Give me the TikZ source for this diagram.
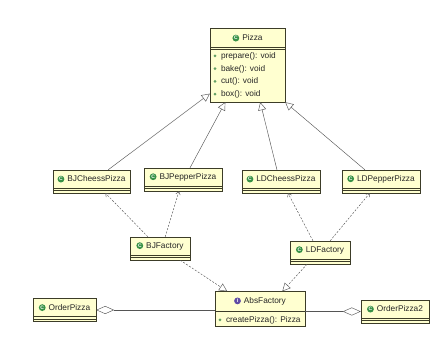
\documentclass[tikz,border=0pt]{standalone}
\usepackage{fontspec}
\setmainfont{Liberation Sans}
\usepackage{tikz}
\usetikzlibrary{arrows.meta,positioning}
\usepackage{xcolor}
\definecolor{umlfill}{RGB}{255,255,208}
\definecolor{umlline}{RGB}{60,60,40}
\definecolor{umlgreen}{RGB}{55,145,70}
\definecolor{umlviolet}{RGB}{95,75,165}
\definecolor{umldot}{RGB}{100,160,100}
\definecolor{wiregray}{RGB}{85,85,85}
\newcommand{\clsicon}[2]{\tikz[baseline=-2.4pt]\node[circle,draw=none,fill=#1,anchor=center,
    inner sep=0pt,minimum size=6.8pt,text=white,font=\bfseries\fontsize{5}{5}\selectfont]{#2};\hspace{3pt}}
\newcommand{\umlop}[1]{\tikz[baseline=-2.4pt]\fill[umldot] (0,0) circle (1.5pt);\hspace{4.5pt}#1}
\tikzset{
    clsbox/.style={rectangle, draw=umlline, fill=umlfill, thin, inner sep=0pt},
    clsname/.style={inner sep=0pt, minimum height=18pt, font=\fontsize{8.3}{10}\selectfont, text=black!85},
    clsops/.style={inner sep=0pt, align=left, font=\fontsize{8.3}{12.7}\selectfont, text=black!85},
    botcomp/.style={path picture={\foreach \d in {2.5,5}
        \draw[umlline] ([yshift=\d pt]path picture bounding box.south west)
                    -- ([yshift=\d pt]path picture bounding box.south east);}},
    topcomp/.style={path picture={\foreach \d in {#1}
        \draw[umlline] ([yshift=-\d pt]path picture bounding box.north west)
                    -- ([yshift=-\d pt]path picture bounding box.north east);}},
    gen/.style={-{Triangle[open,length=8pt,width=8pt]}, wiregray, line width=0.45pt},
    dep/.style={-{Straight Barb[length=3pt,width=4.5pt]}, wiregray, line width=0.45pt,
                dash pattern=on 2pt off 1.5pt},
    real/.style={-{Triangle[open,length=8pt,width=8pt]}, wiregray, line width=0.45pt,
                 dash pattern=on 2pt off 1.5pt},
    agg/.style={-{Diamond[open,length=18pt,width=8pt]}, wiregray, line width=0.45pt},
}
\begin{document}
\begin{tikzpicture}[x=1pt, y=-1pt]
    \useasboundingbox (0,0) rectangle (440,342);

    % product
    \node[clsbox, minimum width=75pt, minimum height=73.5pt, topcomp={19,21}] (pizza) at (247.5,65.25) {};
    \node[clsname, minimum height=19pt, below=0pt of pizza.north] (pizzan) {\clsicon{umlgreen}{C}Pizza};
    \node[clsops, below right=23.8pt and 3.5pt of pizza.north west] (pizzaops)
        {\umlop{prepare(): void}\\ \umlop{bake(): void}\\ \umlop{cut(): void}\\ \umlop{box(): void}};

    % concrete pizzas
    \node[clsbox, minimum width=77pt, minimum height=23pt, botcomp] (bjc) at (91.5,181.5) {};
    \node[clsname, below=0pt of bjc.north] (bjcn) {\clsicon{umlgreen}{C}BJCheessPizza};
    \node[clsbox, minimum width=78pt, minimum height=23pt, botcomp] (bjp) at (183,179.5) {};
    \node[clsname, below=0pt of bjp.north] (bjpn) {\clsicon{umlgreen}{C}BJPepperPizza};
    \node[clsbox, minimum width=78pt, minimum height=23pt, botcomp] (ldc) at (281,181.5) {};
    \node[clsname, below=0pt of ldc.north] (ldcn) {\clsicon{umlgreen}{C}LDCheessPizza};
    \node[clsbox, minimum width=78pt, minimum height=23pt, botcomp] (ldp) at (381,181.5) {};
    \node[clsname, below=0pt of ldp.north] (ldpn) {\clsicon{umlgreen}{C}LDPepperPizza};

    % factories
    \node[clsbox, minimum width=60pt, minimum height=23pt, botcomp] (bjf) at (160,248.5) {};
    \node[clsname, below=0pt of bjf.north] (bjfn) {\clsicon{umlgreen}{C}BJFactory};
    \node[clsbox, minimum width=60pt, minimum height=23pt, botcomp] (ldf) at (320,252.5) {};
    \node[clsname, below=0pt of ldf.north] (ldfn) {\clsicon{umlgreen}{C}LDFactory};

    \node[clsbox, minimum width=90pt, minimum height=34.5pt, topcomp=19.3] (abs) at (260,308.75) {};
    \node[clsname, minimum height=19.3pt, below=0pt of abs.north] (absn) {\clsicon{umlviolet}{I}AbsFactory};
    \node[clsops, below right=24.8pt and 3.5pt of abs.north west] (absops) {\umlop{createPizza(): Pizza}};

    % clients
    \node[clsbox, minimum width=63pt, minimum height=23pt, botcomp] (op) at (64.5,310) {};
    \node[clsname, below=0pt of op.north] (opn) {\clsicon{umlgreen}{C}OrderPizza};
    \node[clsbox, minimum width=68pt, minimum height=23pt, botcomp] (op2) at (395,311.5) {};
    \node[clsname, below=0pt of op2.north] (op2n) {\clsicon{umlgreen}{C}OrderPizza2};

    % inheritance
    \draw[gen] (bjc.35)  -- (pizza.217);
    \draw[gen] (bjp.59)  -- (pizza.239);
    \draw[gen] (ldc.109) -- (pizza.289);
    \draw[gen] (ldp.144) -- (pizza.south east);

    % dependencies
    \draw[dep] (bjf.136) -- (bjc.320);
    \draw[dep] (bjf.66)  -- (bjp.251);
    \draw[dep] (ldf.121) -- (ldc.301);
    \draw[dep] (ldf.49)  -- (ldp.226);

    \draw[real] (bjf.330) -- (abs.152);
    \draw[real] (ldf.222) -- (abs.38);

    % aggregation
    \draw[agg] (op.east -| abs.west) -- (op.east);
    \draw[agg] (op2.west -| abs.east) -- (op2.west);
\end{tikzpicture}
\end{document}
